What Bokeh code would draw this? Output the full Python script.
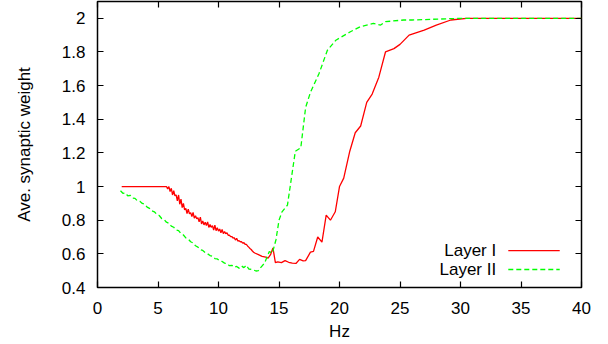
from bokeh.plotting import figure
from bokeh.models import Range1d, FixedTicker, LinearAxis, CustomJSTickFormatter, Label
from bokeh.embed import file_html
from bokeh.resources import INLINE

# ---- data ----
layer1_x = [2.0, 5.6,
            5.7, 5.8, 5.9, 6.0, 6.1, 6.2, 6.3, 6.4, 6.5, 6.6, 6.7, 6.8, 6.9, 7.0,
            7.1, 7.2, 7.3, 7.4, 7.5, 7.6, 7.7, 7.8, 7.9, 8.0, 8.1, 8.2, 8.3, 8.4,
            8.5, 8.6, 8.7, 8.8, 8.9, 9.0, 9.1, 9.2, 9.3, 9.4, 9.5, 9.6, 9.7, 9.8,
            9.9, 10.0, 10.1, 10.2, 10.3, 10.4, 10.5, 10.6, 10.7, 10.8, 10.9, 11.0,
            11.1, 11.2, 11.3, 11.4, 11.5, 11.6, 11.7, 11.8, 11.9, 12.0, 12.1, 12.2,
            12.3, 12.4, 12.5, 12.6, 12.7, 12.8, 12.9, 13.0,
            13.3, 13.6, 13.9, 14.1, 14.3, 14.5, 14.7, 14.9, 15.2, 15.5, 15.8, 16.1,
            16.4, 16.7, 17.0, 17.2, 17.6, 17.85, 18.2, 18.55, 18.9, 19.25, 19.65,
            20.0, 20.35, 20.85, 21.3, 21.75, 22.25, 22.7, 23.25, 23.8, 24.5, 25.0,
            25.75, 27.0, 28.0, 29.2, 30.5, 40.0]
layer1_y = [1.0, 1.0,
            1.000, 0.985, 1.000, 0.970, 0.990, 0.950, 0.975, 0.945, 0.950, 0.915,
            0.950, 0.895, 0.925, 0.875, 0.900, 0.862, 0.870, 0.840, 0.866, 0.838,
            0.845, 0.822, 0.846, 0.812, 0.826, 0.808, 0.815, 0.790, 0.818, 0.778,
            0.796, 0.772, 0.788, 0.768, 0.790, 0.757, 0.774, 0.758, 0.768, 0.742,
            0.770, 0.738, 0.755, 0.735, 0.748, 0.725, 0.745, 0.720, 0.732, 0.720,
            0.726, 0.710, 0.712, 0.702, 0.703, 0.694, 0.696, 0.682, 0.692, 0.676,
            0.678, 0.672, 0.672, 0.664, 0.666, 0.657, 0.656, 0.647, 0.640, 0.632,
            0.626, 0.617, 0.610, 0.605,
            0.595, 0.585, 0.580, 0.575, 0.595, 0.635, 0.548, 0.552, 0.548, 0.560,
            0.550, 0.545, 0.543, 0.567, 0.558, 0.560, 0.610, 0.615, 0.700, 0.670,
            0.830, 0.800, 0.850, 1.000, 1.050, 1.210, 1.320, 1.360, 1.500, 1.550,
            1.650, 1.800, 1.820, 1.845, 1.900, 1.930, 1.960, 1.990, 2.000, 2.000]

layer2_x = [1.9, 2.1, 2.3, 2.5, 2.7, 2.9, 3.1, 3.3, 3.5, 3.7, 3.9, 4.1, 4.3, 4.5,
            4.7, 4.9, 5.1, 5.3, 5.5, 5.7, 5.9, 6.1, 6.3, 6.5, 6.7, 6.9, 7.1, 7.3,
            7.5, 7.7, 7.9, 8.1, 8.3, 8.5, 8.7, 8.9, 9.1, 9.3, 9.5, 9.7, 9.9, 10.1,
            10.3, 10.5, 10.7, 10.9, 11.1, 11.3, 11.5, 11.7, 11.9, 12.1, 12.3, 12.5,
            12.7, 12.9, 13.1, 13.3, 13.5, 13.8, 14.2, 14.45, 14.75, 15.0, 15.25,
            15.7, 16.35, 16.8, 17.2, 17.6, 18.3, 19.0, 19.7, 20.9, 21.7, 22.8,
            23.4, 23.8, 25.3, 26.0, 30.0, 40.0]
layer2_y = [0.975, 0.960, 0.962, 0.945, 0.948, 0.932, 0.930, 0.915, 0.912, 0.900,
            0.895, 0.878, 0.870, 0.855, 0.850, 0.835, 0.828, 0.810, 0.805, 0.788,
            0.782, 0.765, 0.758, 0.742, 0.738, 0.720, 0.712, 0.695, 0.688, 0.672,
            0.665, 0.648, 0.640, 0.625, 0.620, 0.608, 0.600, 0.590, 0.585, 0.572,
            0.570, 0.558, 0.555, 0.545, 0.542, 0.530, 0.532, 0.520, 0.525, 0.515,
            0.528, 0.518, 0.532, 0.510, 0.508, 0.504, 0.498, 0.500, 0.520, 0.544,
            0.614, 0.604, 0.684, 0.800, 0.850, 0.890, 1.210, 1.230, 1.470, 1.560,
            1.670, 1.810, 1.870, 1.920, 1.950, 1.970, 1.960, 1.980, 1.990, 1.990,
            2.000, 2.000]

x_ticks = [0, 5, 10, 15, 20, 25, 30, 35, 40]
y_ticks = [0.4, 0.6, 0.8, 1.0, 1.2, 1.4, 1.6, 1.8, 2.0]
series_names = ["Layer I", "Layer II"]
series_colors = ["#ff0000", "#00ff00"]
x_title = "Hz"
y_title = "Ave. synaptic weight"

FONT = "Liberation Sans"
FS = "17px"

p = figure(width=600, height=344, x_range=Range1d(0, 40), y_range=Range1d(0.4, 2.1),
           output_backend="svg", toolbar_location=None,
           min_border_left=97, min_border_right=19, min_border_top=1, min_border_bottom=57)
p.xgrid.visible = False
p.ygrid.visible = False
p.outline_line_color = "black"
p.outline_line_width = 1.5
p.background_fill_color = "white"
p.border_fill_color = "white"

fmt = CustomJSTickFormatter(code="return (Math.round(tick*10)/10).toString();")
for ax, ticks in ((p.xaxis[0], x_ticks), (p.yaxis[0], y_ticks)):
    ax.ticker = FixedTicker(ticks=ticks)
    ax.formatter = fmt
    ax.axis_line_color = None
    ax.major_tick_in = 6
    ax.major_tick_out = 0
    ax.major_tick_line_color = "black"
    ax.major_tick_line_width = 1.2
    ax.minor_tick_line_color = None
    ax.major_label_text_font = FONT
    ax.major_label_text_font_size = FS
    ax.major_label_text_color = "black"
    ax.axis_label_text_font = FONT
    ax.axis_label_text_font_size = FS
    ax.axis_label_text_font_style = "normal"
    ax.axis_label_text_color = "black"

p.xaxis[0].axis_label = x_title
p.xaxis[0].major_label_standoff = 14
p.xaxis[0].axis_label_standoff = 5
p.yaxis[0].axis_label = y_title
p.yaxis[0].major_label_standoff = 12
p.yaxis[0].axis_label_standoff = 25

empty = CustomJSTickFormatter(code="return '';")
for loc, ticks in (("above", x_ticks), ("right", y_ticks)):
    ax = LinearAxis(ticker=FixedTicker(ticks=ticks), formatter=empty,
                    axis_line_color=None, major_tick_in=6, major_tick_out=0,
                    major_tick_line_color="black", major_tick_line_width=1.2,
                    minor_tick_line_color=None, major_label_standoff=0,
                    major_label_text_font_size="0px")
    p.add_layout(ax, loc)

p.line(layer1_x, layer1_y, line_color=series_colors[0], line_width=1.3)
p.line(layer2_x, layer2_y, line_color=series_colors[1], line_width=1.3, line_dash="5 3")

# manual legend (text right-aligned, sample to the right), gnuplot style
leg_text_x = 32.95
leg_line_x = [33.95, 38.2]
leg_y = [0.619, 0.507]
for name, color, yy, dash in zip(series_names, series_colors, leg_y, ["solid", "5 3"]):
    p.add_layout(Label(x=leg_text_x, y=yy, text=name, text_align="right",
                       text_baseline="middle", text_font=FONT, text_font_size=FS,
                       text_color="black"))
    p.line(leg_line_x, [yy, yy], line_color=color, line_width=1.3, line_dash=dash)

open("out.html", "w").write(file_html(p, INLINE))
